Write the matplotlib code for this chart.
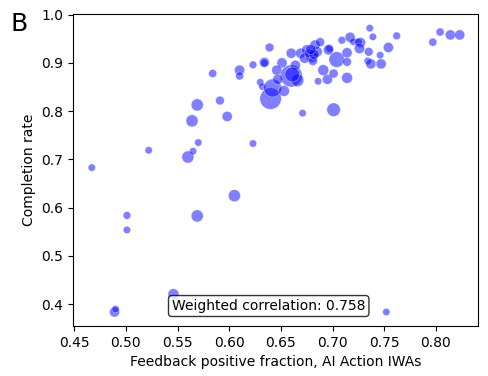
import matplotlib
matplotlib.use("Agg")
import matplotlib.pyplot as plt
import numpy as np

feedback_pos = [
    0.467, 0.522, 0.560, 0.565, 0.570, 0.623, 0.564, 0.569, 0.591, 0.598,
    0.584, 0.610, 0.610, 0.623, 0.634, 0.634, 0.639, 0.630, 0.632, 0.640,
    0.642, 0.653, 0.660, 0.651, 0.660, 0.669, 0.675, 0.680, 0.685, 0.683,
    0.673, 0.677, 0.681, 0.671, 0.701, 0.686, 0.695, 0.701, 0.691, 0.704,
    0.714, 0.714, 0.714, 0.709, 0.717, 0.697, 0.720, 0.727, 0.725, 0.726,
    0.735, 0.736, 0.739, 0.746, 0.734, 0.737, 0.747, 0.754, 0.762, 0.797,
    0.804, 0.814, 0.823, 0.605, 0.569, 0.501, 0.501, 0.489, 0.490, 0.546,
    0.752, 0.646, 0.664, 0.696, 0.666, 0.647, 0.688, 0.661, 0.682, 0.679,
]
completion = [
    0.683, 0.719, 0.705, 0.717, 0.735, 0.733, 0.780, 0.813, 0.822, 0.789,
    0.878, 0.885, 0.873, 0.896, 0.901, 0.900, 0.932, 0.860, 0.851, 0.826,
    0.848, 0.842, 0.873, 0.900, 0.920, 0.920, 0.927, 0.913, 0.923, 0.937,
    0.910, 0.920, 0.904, 0.796, 0.803, 0.862, 0.866, 0.878, 0.885, 0.907,
    0.921, 0.902, 0.869, 0.947, 0.953, 0.930, 0.944, 0.942, 0.943, 0.930,
    0.923, 0.972, 0.954, 0.916, 0.904, 0.898, 0.898, 0.932, 0.956, 0.943,
    0.964, 0.958, 0.958, 0.625, 0.583, 0.584, 0.554, 0.384, 0.390, 0.421,
    0.384, 0.885, 0.895, 0.927, 0.864, 0.866, 0.943, 0.876, 0.918, 0.928,
]
weights = [
    1.0, 1.0, 2.7, 1.0, 1.0, 1.0, 2.7, 2.7, 1.4, 1.9,
    1.2, 1.9, 1.2, 1.1, 1.9, 1.2, 1.4, 1.0, 1.0, 8.5,
    6.0, 2.2, 9.0, 1.9, 1.9, 1.9, 1.9, 2.5, 2.0, 1.9,
    2.0, 1.5, 1.5, 1.0, 3.4, 1.0, 1.9, 1.5, 2.2, 4.5,
    1.9, 1.4, 2.2, 1.1, 1.9, 1.2, 1.0, 1.9, 1.2, 2.0,
    1.4, 1.0, 1.0, 1.0, 1.0, 1.9, 1.9, 1.9, 1.1, 1.2,
    1.2, 1.9, 1.9, 2.7, 2.7, 1.1, 1.0, 1.9, 1.0, 2.2,
    1.0, 1.9, 1.9, 1.9, 3.0, 1.9, 1.5, 4.0, 1.9, 1.9,
]
corr_label = "Weighted correlation: 0.758"

fig = plt.figure(figsize=(4.88, 3.76), dpi=100)
ax = fig.add_axes([0.150, 0.133, 0.8295, 0.830])

sizes = np.array(weights) * 28
ax.scatter(feedback_pos, completion, s=sizes, color="blue", alpha=0.5,
           edgecolors="white", linewidths=0.45)

ax.set_xlim(0.449, 0.8407)
ax.set_ylim(0.355, 1.0015)
ax.set_xticks([0.45, 0.50, 0.55, 0.60, 0.65, 0.70, 0.75, 0.80])
ax.set_xticklabels(["0.45", "0.50", "0.55", "0.60", "0.65", "0.70", "0.75", "0.80"])
ax.set_yticks([0.4, 0.5, 0.6, 0.7, 0.8, 0.9, 1.0])
ax.set_xlabel("Feedback positive fraction, AI Action IWAs", fontsize=10)
ax.set_ylabel("Completion rate", fontsize=10)
ax.tick_params(labelsize=10)

ax.text(0.483, 0.064, corr_label, transform=ax.transAxes, ha="center", va="center",
        fontsize=10, bbox=dict(boxstyle="round,pad=0.25", facecolor="white",
                               edgecolor="black", alpha=0.8))

fig.text(0.021, 0.936, "B", fontsize=18, ha="left", va="center")

fig.savefig("out.png", dpi=100)
